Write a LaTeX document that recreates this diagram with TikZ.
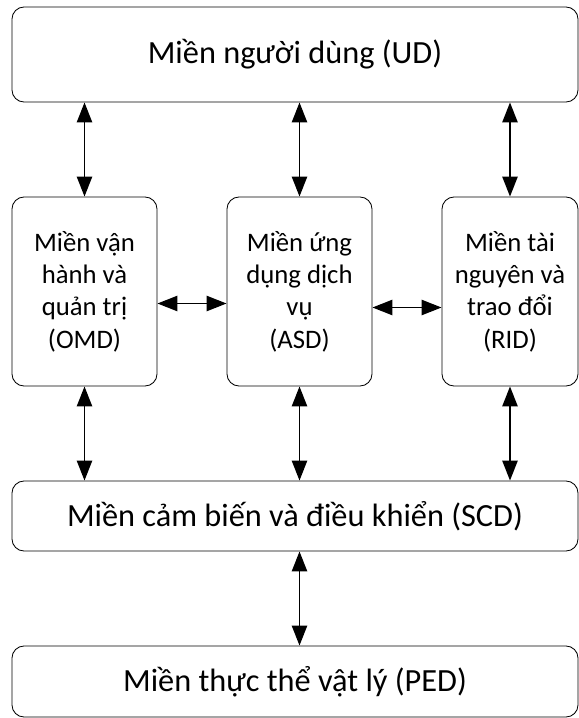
\documentclass[tikz,border=0pt]{standalone}
\usepackage{fontspec}
\setmainfont{Carlito}
\usetikzlibrary{arrows.meta}

\begin{document}
\begin{tikzpicture}[
    zone/.style={draw, line width=0.6pt, rounded corners=0.3cm, align=center,
        font=\fontsize{19}{23}\selectfont, inner sep=0pt},
    wide/.style={zone, minimum width=14.15cm, font=\fontsize{23}{27}\selectfont},
    link/.style={{Triangle[length=0.5cm,width=0.38cm]}-{Triangle[length=0.5cm,width=0.38cm]}, line width=1.4pt}
]
    \useasboundingbox (0,0) rectangle (14.475,-17.95);
    % Draw centres
    \coordinate (cud) at (7.375, -1.3625);
    \coordinate (comd) at (2.1125, -7.2875);
    \coordinate (casd) at (7.4875, -7.2875);
    \coordinate (crid) at (12.75, -7.2875);
    \coordinate (cscd) at (7.375, -12.9);
    \coordinate (cped) at (7.375, -17.0375);
    % Draw zones
    \node [wide, minimum height=2.375cm] (ud) at (cud) {Miền người dùng (UD)};
    \node [zone, minimum width=3.625cm, minimum height=4.725cm] (omd) at (comd) {Miền vận\\hành và\\quản trị\\(OMD)};
    \node [zone, minimum width=3.625cm, minimum height=4.725cm] (asd) at (casd) {Miền ứng\\dụng dịch\\vụ\\(ASD)};
    \node [zone, minimum width=3.4cm, minimum height=4.725cm] (rid) at (crid) {Miền tài\\nguyên và\\trao đổi\\(RID)};
    \node [wide, minimum height=1.75cm] (scd) at (cscd) {Miền cảm biến và điều khiển (SCD)};
    \node [wide, minimum height=1.775cm] (ped) at (cped) {Miền thực thể vật lý (PED)};
    % Draw links
    \draw [link] (omd.north |- ud.south) -- (omd.north);
    \draw [link] (asd.north |- ud.south) -- (asd.north);
    \draw [link] (rid.north |- ud.south) -- (rid.north);
    \draw [link] ([yshift=-0.3cm]omd.east) -- ([yshift=-0.3cm]asd.west);
    \draw [link] ([yshift=-0.4cm]asd.east) -- ([yshift=-0.4cm]rid.west);
    \draw [link] (omd.south) -- (omd.south |- scd.north);
    \draw [link] (asd.south) -- (asd.south |- scd.north);
    \draw [link] (rid.south) -- (rid.south |- scd.north);
    \draw [link] (scd.south -| asd.south) -- (ped.north -| asd.south);
\end{tikzpicture}
\end{document}
